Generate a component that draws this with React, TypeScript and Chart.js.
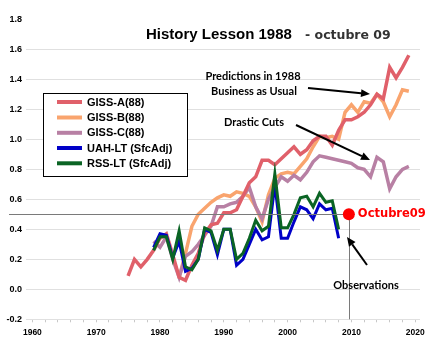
import React, { useEffect, useRef } from 'react';
import { Chart, registerables } from 'chart.js';

Chart.register(...registerables);

// ---- data (annual values, °C anomaly) ----
const GISS_A_START = 1975;
const GISS_A = [0.09, 0.20, 0.15, 0.20, 0.26, 0.34, 0.37, 0.23, 0.08, 0.06,
  0.16, 0.24, 0.37, 0.43, 0.44, 0.51, 0.51, 0.53, 0.62, 0.71,
  0.75, 0.86, 0.86, 0.83, 0.87, 0.91, 0.95, 0.90, 0.93, 0.99,
  1.02, 1.02, 0.96, 1.06, 1.13, 1.13, 1.15, 1.18, 1.23, 1.30,
  1.27, 1.48, 1.41, 1.48, 1.56];

const GISS_B_START = 1983;
const GISS_B = [0.08, 0.24, 0.42, 0.50, 0.54, 0.58, 0.61, 0.63, 0.62, 0.65,
  0.64, 0.62, 0.55, 0.45, 0.63, 0.74, 0.77, 0.78, 0.77, 0.82,
  0.87, 0.95, 1.02, 1.01, 1.02, 1.00, 1.18, 1.23, 1.18, 1.25,
  1.24, 1.30, 1.25, 1.15, 1.23, 1.33, 1.32];

const GISS_C_START = 1979;
const GISS_C = [0.32, 0.28, 0.35, 0.20, 0.08, 0.22, 0.25, 0.30, 0.36, 0.42,
  0.55, 0.55, 0.57, 0.58, 0.62, 0.68, 0.55, 0.47, 0.60, 0.68,
  0.75, 0.72, 0.76, 0.73, 0.78, 0.85, 0.89, 0.88, 0.87, 0.86,
  0.85, 0.84, 0.81, 0.80, 0.75, 0.88, 0.85, 0.67, 0.75, 0.80,
  0.82];

const SAT_START = 1979;
const UAH_LT = [0.28, 0.37, 0.36, 0.21, 0.32, 0.12, 0.14, 0.20, 0.40, 0.38,
  0.23, 0.40, 0.40, 0.16, 0.20, 0.30, 0.40, 0.33, 0.35, 0.70,
  0.34, 0.34, 0.45, 0.55, 0.53, 0.47, 0.57, 0.53, 0.54, 0.34];
const RSS_LT = [0.26, 0.35, 0.35, 0.20, 0.39, 0.15, 0.13, 0.20, 0.41, 0.39,
  0.26, 0.40, 0.40, 0.20, 0.24, 0.34, 0.46, 0.39, 0.42, 0.77,
  0.41, 0.41, 0.50, 0.61, 0.62, 0.55, 0.64, 0.58, 0.59, 0.40];

const OCT09_YEAR = 2009.6;
const OCT09_VALUE = 0.5;

const X_TICKS = [1960, 1962, 1964, 1966, 1968, 1970, 1972, 1974, 1976, 1978, 1980,
  1982, 1984, 1986, 1988, 1990, 1992, 1994, 1996, 1998, 2000, 2002, 2004, 2006,
  2008, 2010, 2012, 2014, 2016, 2018, 2020];

const SERIES_NAMES = ['GISS-A(88)', 'GISS-B(88)', 'GISS-C(88)', 'UAH-LT (SfcAdj)', 'RSS-LT (SfcAdj)'];
const SERIES_COLORS = ['#e0606a', '#f9a46e', '#b880a4', '#0000c8', '#0a6424'];

const toPoints = (start: number, vals: number[]) => vals.map((v, i) => ({ x: start + i, y: v }));

function arrow(ctx: CanvasRenderingContext2D, x1: number, y1: number, x2: number, y2: number) {
  const ang = Math.atan2(y2 - y1, x2 - x1);
  const head = 9;
  const bx = x2 - Math.cos(ang) * head;
  const by = y2 - Math.sin(ang) * head;
  ctx.save();
  ctx.strokeStyle = '#000';
  ctx.fillStyle = '#000';
  ctx.lineWidth = 2;
  ctx.beginPath();
  ctx.moveTo(x1, y1);
  ctx.lineTo(bx, by);
  ctx.stroke();
  ctx.beginPath();
  ctx.moveTo(x2, y2);
  ctx.lineTo(bx + Math.sin(ang) * 4, by - Math.cos(ang) * 4);
  ctx.lineTo(bx - Math.sin(ang) * 4, by + Math.cos(ang) * 4);
  ctx.closePath();
  ctx.fill();
  ctx.restore();
}

const overlayPlugin = {
  id: 'overlay',
  afterDatasetsDraw(chart: any) {
    const ctx: CanvasRenderingContext2D = chart.ctx;
    const xs = chart.scales.x;
    const ys = chart.scales.y;
    const px = xs.getPixelForValue(OCT09_YEAR);
    const py = ys.getPixelForValue(OCT09_VALUE);
    ctx.save();
    ctx.strokeStyle = '#7a7a7a';
    ctx.lineWidth = 1;
    ctx.beginPath();
    ctx.moveTo(9, Math.round(py) + 0.5);
    ctx.lineTo(px, Math.round(py) + 0.5);
    ctx.moveTo(Math.round(px) + 0.5, py);
    ctx.lineTo(Math.round(px) + 0.5, chart.chartArea.bottom);
    ctx.stroke();
    ctx.fillStyle = '#ff0000';
    ctx.beginPath();
    ctx.arc(px, py, 6, 0, Math.PI * 2);
    ctx.fill();
    ctx.font = 'bold 11.5px "DejaVu Sans"';
    ctx.textBaseline = 'middle';
    ctx.textAlign = 'left';
    ctx.fillText('Octubre09', px + 9, py);
    ctx.restore();
  },
  afterDraw(chart: any) {
    const ctx: CanvasRenderingContext2D = chart.ctx;
    ctx.save();
    // title
    ctx.fillStyle = '#000';
    ctx.textBaseline = 'alphabetic';
    ctx.textAlign = 'left';
    ctx.font = 'bold 15px "Liberation Sans"';
    ctx.fillText('History Lesson 1988', 146, 39);
    ctx.fillStyle = '#333';
    ctx.font = 'bold 12.5px "DejaVu Sans"';
    ctx.fillText('- octubre 09', 305, 39);

    // legend
    ctx.fillStyle = '#fff';
    ctx.fillRect(43, 93, 144, 83);
    ctx.strokeStyle = '#000';
    ctx.lineWidth = 1;
    ctx.strokeRect(43.5, 93.5, 144, 83);
    const rows = [102, 117.5, 132.8, 148, 163.3];
    ctx.font = 'bold 11px "Liberation Sans"';
    ctx.textBaseline = 'middle';
    SERIES_NAMES.forEach((name, i) => {
      ctx.strokeStyle = SERIES_COLORS[i];
      ctx.lineWidth = 4;
      ctx.beginPath();
      ctx.moveTo(57, rows[i]);
      ctx.lineTo(82, rows[i]);
      ctx.stroke();
      ctx.fillStyle = '#000';
      ctx.fillText(name, 87, rows[i] + 0.5);
    });

    // annotations
    ctx.font = 'bold 11px Lato';
    ctx.textAlign = 'center';
    ctx.fillStyle = '#000';
    ctx.fillText('Predictions in 1988', 253, 76);
    ctx.fillText('Business as Usual', 254, 91);
    ctx.fillText('Drastic Cuts', 254, 122.5);
    ctx.fillText('Observations', 366, 285);
    ctx.restore();

    arrow(ctx, 308, 88, 370, 94);
    arrow(ctx, 296, 125, 370, 160);
    arrow(ctx, 367, 265, 347, 237);
  },
};

export default function App() {
  const ref = useRef<HTMLCanvasElement>(null);
  useEffect(() => {
    if (!ref.current) return;
    const series = [
      toPoints(GISS_A_START, GISS_A),
      toPoints(GISS_B_START, GISS_B),
      toPoints(GISS_C_START, GISS_C),
      toPoints(SAT_START, UAH_LT),
      toPoints(SAT_START, RSS_LT),
    ];
    const orders = [2, 4, 3, 1, 0];
    const chart = new Chart(ref.current, {
      type: 'line',
      data: {
        datasets: series.map((d, i) => ({
          label: SERIES_NAMES[i],
          data: d,
          borderColor: SERIES_COLORS[i],
          backgroundColor: SERIES_COLORS[i],
          borderWidth: i >= 3 ? 3 : 3.5,
          pointRadius: 0,
          tension: 0,
          order: orders[i],
        })),
      },
      options: {
        animation: false,
        responsive: false,
        maintainAspectRatio: false,
        layout: { padding: { top: 19.3, right: 15, left: 0, bottom: 0 } },
        plugins: { legend: { display: false }, tooltip: { enabled: false }, title: { display: false } },
        scales: {
          x: {
            type: 'linear',
            min: 1959,
            max: 2020.75,
            afterBuildTicks: (axis: any) => { axis.ticks = X_TICKS.map((v) => ({ value: v })); },
            afterFit: (s: any) => { s.height = 22.7; },
            border: { display: false },
            grid: { drawOnChartArea: false, drawTicks: true, tickLength: 3, color: '#c8c8c8' },
            ticks: {
              autoSkip: false,
              maxRotation: 0,
              padding: 5,
              color: '#000',
              font: { family: '"Liberation Sans"', size: 8.5, weight: 'bold' },
              callback: (v: any) => (Number(v) % 10 === 0 ? String(v) : ''),
            },
          },
          y: {
            min: -0.2,
            max: 1.8,
            afterFit: (s: any) => { s.width = 26; },
            border: { display: false },
            grid: {
              drawTicks: false,
              color: (c: any) => (c.tick && c.tick.value > 1.7 ? 'rgba(0,0,0,0)' : '#e0e0e0'),
            },
            ticks: {
              stepSize: 0.2,
              padding: 4,
              color: '#000',
              font: { family: '"Liberation Sans"', size: 9, weight: 'bold' },
              callback: (v: any) => Number(v).toFixed(1),
            },
          },
        },
      },
      plugins: [overlayPlugin],
    });
    return () => chart.destroy();
  }, []);
  return (
    <div style={{ position: 'absolute', left: 0, top: 0, width: 435, height: 342, background: '#fff' }}>
      <canvas ref={ref} width={435} height={342} style={{ display: 'block' }} />
    </div>
  );
}
